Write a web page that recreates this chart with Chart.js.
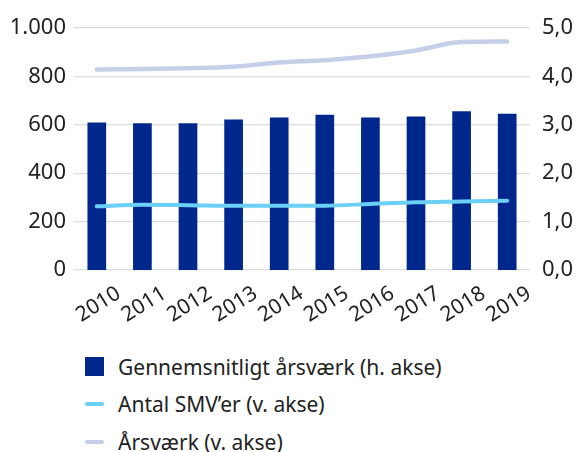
<!DOCTYPE html>
<html>
<head>
<meta charset="utf-8">
<script src="https://cdn.jsdelivr.net/npm/chart.js@4/dist/chart.umd.min.js"></script>
<style>
  body { margin: 0; background: #fff; width: 577px; height: 452px; overflow: hidden; font-family: "Noto Sans", sans-serif; }
  #wrap { position: relative; width: 577px; height: 340px; }
  #legend { position: absolute; left: 85px; top: 348px; }
  .item { display: flex; align-items: center; height: 37.5px; font-size: 21px; color: #222; }
  .mark { width: 19px; margin-right: 14px; flex: none; }
</style>
</head>
<body>
<div id="wrap"><canvas id="chart"></canvas></div>
<div id="legend"></div>
<script>
const years = ["2010", "2011", "2012", "2013", "2014", "2015", "2016", "2017", "2018", "2019"];
const avgFte = [3.05, 3.03, 3.03, 3.11, 3.15, 3.21, 3.15, 3.17, 3.28, 3.23];
const smeCount = [263, 270, 268, 265, 266, 266, 273, 280, 283, 286];
const fte = [828, 831, 834, 840, 857, 867, 883, 907, 942, 944];

const navy = "#00288c";
const sky = "#6ccff6";
const lavender = "#c5cfe8";

function thousands(v) {
    return String(v).replace(/\B(?=(\d{3})+(?!\d))/g, ".");
}

const chart = new Chart("chart", {
    type: "bar",
    data: {
        labels: years,
        datasets: [{
            label: "Gennemsnitligt årsværk (h. akse)",
            data: avgFte,
            backgroundColor: navy,
            yAxisID: "right",
            categoryPercentage: 1,
            barPercentage: 0.41,
            order: 3
        }, {
            type: "line",
            label: "Antal SMV’er (v. akse)",
            data: smeCount,
            borderColor: sky,
            borderWidth: 4,
            borderCapStyle: "round",
            pointRadius: 0,
            cubicInterpolationMode: "monotone",
            yAxisID: "left",
            order: 1
        }, {
            type: "line",
            label: "Årsværk (v. akse)",
            data: fte,
            borderColor: lavender,
            borderWidth: 4.5,
            borderCapStyle: "round",
            pointRadius: 0,
            cubicInterpolationMode: "monotone",
            yAxisID: "left",
            order: 2
        }]
    },
    options: {
        responsive: true,
        maintainAspectRatio: false,
        animation: false,
        layout: { padding: { top: 28, left: 0, right: 0, bottom: 0 } },
        plugins: {
            legend: { display: false },
            tooltip: { enabled: false }
        },
        scales: {
            x: {
                grid: { display: false, drawTicks: false },
                border: { display: false },
                ticks: {
                    autoSkip: false,
                    color: "#222",
                    font: { family: "Noto Sans", size: 21 },
                    minRotation: 32,
                    maxRotation: 32,
                    labelOffset: 22,
                    padding: 11
                },
                afterFit: s => { s.height = 70; }
            },
            left: {
                position: "left",
                min: 0,
                max: 1000,
                grid: { color: "#dcdcdc", lineWidth: 1.3, drawTicks: false },
                border: { display: false },
                ticks: {
                    stepSize: 200,
                    color: "#222",
                    padding: 8,
                    font: { family: "Noto Sans", size: 22 },
                    callback: v => thousands(v)
                },
                afterFit: s => { s.width = 74; }
            },
            right: {
                position: "right",
                min: 0,
                max: 5,
                grid: { display: false, drawTicks: false },
                border: { display: false },
                ticks: {
                    stepSize: 1,
                    color: "#222",
                    padding: 12,
                    font: { family: "Noto Sans", size: 22 },
                    callback: v => v.toFixed(1).replace(".", ",")
                },
                afterFit: s => { s.width = 47; }
            }
        }
    }
});

const legend = document.getElementById("legend");
chart.data.datasets.forEach(ds => {
    const item = document.createElement("div");
    item.className = "item";
    const mark = document.createElement("span");
    mark.className = "mark";
    if (ds.type === "line") {
        mark.style.height = "4px";
        mark.style.borderRadius = "2px";
        mark.style.background = ds.borderColor;
    } else {
        mark.style.height = "19px";
        mark.style.background = ds.backgroundColor;
    }
    item.appendChild(mark);
    item.appendChild(document.createTextNode(ds.label));
    legend.appendChild(item);
});
</script>
</body>
</html>
